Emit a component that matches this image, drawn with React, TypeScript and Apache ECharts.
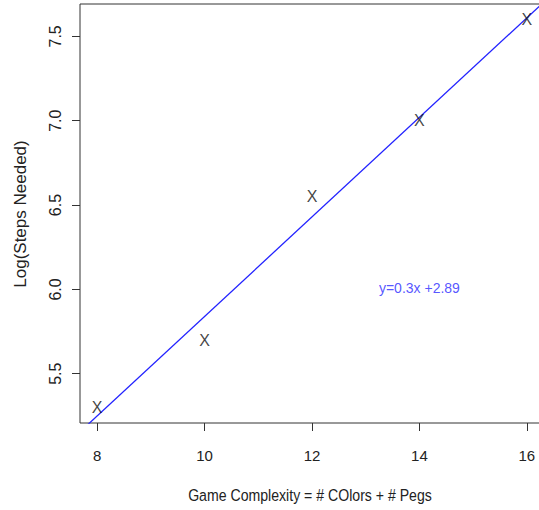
import React, { useEffect, useRef } from "react";
import * as echarts from "echarts";

const complexity = [8, 10, 12, 14, 16];
const logSteps = [5.3, 5.7, 6.55, 7.0, 7.6];
const xTicks = [8, 10, 12, 14, 16];
const yTicks = [5.5, 6.0, 6.5, 7.0, 7.5];
const xRange = [7.68, 16.32];
const yRange = [5.208, 7.692];
const equationLabel = "y=0.3x +2.89";
const equationPos = [14, 6.01];
const xTitle = "Game Complexity = # COlors + # Pegs";
const yTitle = "Log(Steps Needed)";

const REG = "'Liberation Sans', Arial, Helvetica, sans-serif";

function fit(xs: number[], ys: number[]) {
  const n = xs.length;
  const mx = xs.reduce((a, b) => a + b, 0) / n;
  const my = ys.reduce((a, b) => a + b, 0) / n;
  let sxy = 0, sxx = 0;
  for (let i = 0; i < n; i++) {
    sxy += (xs[i] - mx) * (ys[i] - my);
    sxx += (xs[i] - mx) * (xs[i] - mx);
  }
  const b = sxy / sxx;
  return { b, a: my - b * mx };
}

export default function App() {
  const ref = useRef<HTMLDivElement>(null);
  useEffect(() => {
    document.body.style.margin = "0";
    document.body.style.overflow = "hidden";
    const chart = echarts.init(ref.current!, null, { renderer: "svg" });
    const { a, b } = fit(complexity, logSteps);
    const lineData = xRange.map((x) => [x, a + b * x]);
    chart.setOption({
      animation: false,
      backgroundColor: "#fff",
      grid: {
        left: 80,
        top: 4,
        width: 464,
        height: 419,
        show: true,
        borderColor: "#333",
        borderWidth: 1,
        containLabel: false,
      },
      xAxis: {
        type: "value",
        min: xRange[0],
        max: xRange[1],
        splitLine: { show: false },
        axisLine: { show: false },
        axisTick: { show: true, length: 8, customValues: xTicks, lineStyle: { color: "#333" } },
        axisLabel: {
          customValues: xTicks,
          margin: 25,
          fontSize: 15,
          fontFamily: REG,
          color: "#222",
          formatter: (v: number) => String(v),
        },
      },
      yAxis: {
        type: "value",
        min: yRange[0],
        max: yRange[1],
        splitLine: { show: false },
        axisLine: { show: false },
        axisTick: { show: true, length: 8, customValues: yTicks, lineStyle: { color: "#333" } },
        axisLabel: {
          customValues: yTicks,
          rotate: 90,
          margin: 17,
          fontSize: 16,
          fontFamily: REG,
          color: "#222",
          formatter: (v: number) => v.toFixed(1),
        },
      },
      graphic: [
        {
          type: "text",
          x: 310,
          y: 495,
          scaleX: 0.83,
          style: {
            text: xTitle,
            fontSize: 17,
            fontFamily: REG,
            fill: "#222",
            align: "center",
            verticalAlign: "middle",
          },
        },
        {
          type: "text",
          x: 20,
          y: 214,
          rotation: Math.PI / 2,
          style: {
            text: yTitle,
            fontSize: 17,
            fontFamily: REG,
            fill: "#222",
            align: "center",
            verticalAlign: "middle",
          },
        },
      ],
      series: [
        {
          type: "line",
          data: lineData,
          symbol: "none",
          clip: true,
          lineStyle: { color: "#2222ff", width: 1.3 },
          z: 2,
        },
        {
          type: "scatter",
          data: complexity.map((x, i) => [x, logSteps[i]]),
          symbolSize: 1,
          itemStyle: { color: "rgba(0,0,0,0)" },
          label: {
            show: true,
            position: "inside",
            formatter: () => "X",
            fontSize: 16,
            fontFamily: REG,
            color: "#111",
          },
          z: 3,
        },
        {
          type: "scatter",
          data: [equationPos],
          symbolSize: 1,
          itemStyle: { color: "rgba(0,0,0,0)" },
          label: {
            show: true,
            position: "inside",
            formatter: () => equationLabel,
            fontSize: 14,
            fontFamily: REG,
            color: "#2a2aff",
          },
          z: 3,
        },
      ],
    });
    return () => chart.dispose();
  }, []);
  return (
    <div style={{ width: 539, height: 510, overflow: "hidden" }}>
      <div ref={ref} style={{ width: 546, height: 510 }} />
    </div>
  );
}
